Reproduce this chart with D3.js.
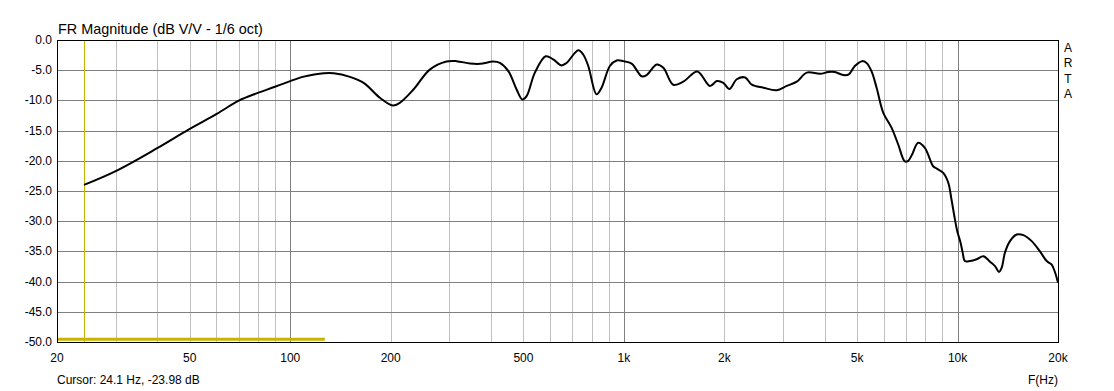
<!DOCTYPE html>
<html>
<head>
<meta charset="UTF-8">
<script src="https://cdn.jsdelivr.net/npm/d3@7"></script>
<style>
  body { margin: 0; background: #fff; }
  svg text { font-family: "Liberation Sans", Arial, sans-serif; font-size: 12px; fill: #000; }
</style>
</head>
<body>
<svg id="chart" width="1114" height="391"></svg>
<script>
// measured response, 1/6 oct smoothing
var freqs = [24.1, 30, 39.8, 49.7, 60.2, 70.1, 79.6, 90, 100, 109, 118, 126, 135, 151, 166, 186, 203, 213, 234, 262,
  294, 315, 346, 371, 406, 425, 451, 477, 496, 511, 541, 583, 614, 650, 673, 730, 755, 782, 828, 857,
  908, 951, 996, 1055, 1130, 1170, 1254, 1313, 1406, 1507, 1660, 1811, 1900, 1986, 2070, 2180, 2309, 2417, 2618, 2872,
  3077, 3297, 3532, 3874, 4096, 4287, 4541, 4722, 4922, 5178, 5338, 5525, 5720, 5990, 6340, 6640, 6950, 7112, 7300, 7620,
  7980, 8450, 8670, 9060, 9376, 9590, 9820, 9980, 10215, 10360, 10520, 10890, 11410, 11950, 12510, 12950, 13310, 13560, 13870, 14360,
  15040, 15750, 16680, 17660, 18500, 19150, 19600, 20000];
var dbs = [-23.98, -21.7, -17.96, -14.8, -12.25, -10.05, -8.8, -7.75, -6.8, -6.1, -5.7, -5.5, -5.5, -6.1, -7.1, -9.6, -10.85, -10.4, -8.2, -4.9,
  -3.56, -3.5, -3.9, -3.95, -3.56, -3.8, -5.2, -8.2, -9.85, -9.3, -5.4, -2.7, -3.2, -4.2, -3.8, -1.7, -2.4, -4.3, -9.0, -7.9,
  -4.3, -3.4, -3.5, -3.9, -6.0, -5.8, -4.06, -4.6, -7.4, -6.9, -5.2, -7.6, -6.8, -7.1, -8.1, -6.5, -6.2, -7.4, -7.9, -8.3,
  -7.6, -6.9, -5.4, -5.6, -5.3, -5.3, -5.8, -5.7, -4.3, -3.5, -3.8, -5.2, -7.9, -12.05, -14.5, -17.3, -20.1, -20.0, -19.0, -17.0,
  -17.85, -20.9, -21.3, -22.0, -23.6, -26.4, -29.7, -31.65, -33.6, -35.2, -36.6, -36.6, -36.3, -35.8, -36.7, -37.45, -38.4, -37.7, -35.2, -33.3,
  -32.2, -32.3, -33.3, -35.0, -36.6, -37.2, -38.5, -40.2];

var xTickVals = [20, 50, 100, 200, 500, 1000, 2000, 5000, 10000, 20000];
var xTickLabels = ["20", "50", "100", "200", "500", "1k", "2k", "5k", "10k", "20k"];
var yTickVals = [0, -5, -10, -15, -20, -25, -30, -35, -40, -45, -50];

var cursorFreq = 24.1, cursorDb = -23.98;
var markerEnd = 127;   // yellow reference band at the bottom

var pL = 57, pR = 1058, pT = 40, pB = 342;

var x = d3.scaleLog().domain([20, 20000]).range([pL, pR]);
var y = d3.scaleLinear().domain([-50, 0]).range([pB, pT]);

var svg = d3.select("#chart");

// minor vertical grid
var minor = [];
[10, 100, 1000, 10000].forEach(function(dec) {
  for (var k = 2; k <= 9; k++) {
    var f = dec * k;
    if (f > 20 && f < 20000) minor.push(f);
  }
});
svg.append("g").selectAll("line").data(minor).enter().append("line")
  .attr("x1", function(d) { return Math.round(x(d)) + 0.5; })
  .attr("x2", function(d) { return Math.round(x(d)) + 0.5; })
  .attr("y1", pT).attr("y2", pB)
  .attr("stroke", "#c0c0c0");

// decade lines
svg.append("g").selectAll("line").data([100, 1000, 10000]).enter().append("line")
  .attr("x1", function(d) { return Math.round(x(d)) + 0.5; })
  .attr("x2", function(d) { return Math.round(x(d)) + 0.5; })
  .attr("y1", pT).attr("y2", pB)
  .attr("stroke", "#808080");

// horizontal grid
svg.append("g").selectAll("line").data(yTickVals.slice(1, -1)).enter().append("line")
  .attr("x1", pL).attr("x2", pR)
  .attr("y1", function(d) { return Math.round(y(d)) + 0.5; })
  .attr("y2", function(d) { return Math.round(y(d)) + 0.5; })
  .attr("stroke", "#808080");

// cursor
svg.append("line")
  .attr("x1", Math.round(x(cursorFreq)) + 0.5).attr("x2", Math.round(x(cursorFreq)) + 0.5)
  .attr("y1", pT).attr("y2", pB)
  .attr("stroke", "#c8b400");

svg.append("line")
  .attr("x1", pL).attr("x2", x(markerEnd))
  .attr("y1", y(-49.55)).attr("y2", y(-49.55))
  .attr("stroke", "#c8b400").attr("stroke-width", 3);

// frame
svg.append("rect")
  .attr("x", pL + 0.5).attr("y", pT + 0.5)
  .attr("width", pR - pL).attr("height", pB - pT)
  .attr("fill", "none").attr("stroke", "#000");

// response curve
var pts = freqs.map(function(f, i) { return [f, dbs[i]]; });
var line = d3.line()
  .x(function(d) { return x(d[0]); })
  .y(function(d) { return y(d[1]); })
  .curve(d3.curveCatmullRom.alpha(0.5));

svg.append("path")
  .datum(pts)
  .attr("d", line)
  .attr("fill", "none")
  .attr("stroke", "#000")
  .attr("stroke-width", 2)
  .attr("stroke-linejoin", "round");

// y labels
svg.append("g").selectAll("text").data(yTickVals).enter().append("text")
  .attr("x", 52)
  .attr("y", function(d) { return y(d) + 4; })
  .attr("text-anchor", "end")
  .text(function(d) { return d.toFixed(1); });

// x labels
svg.append("g").selectAll("text").data(xTickVals).enter().append("text")
  .attr("x", function(d) { return x(d); })
  .attr("y", 362)
  .attr("text-anchor", "middle")
  .text(function(d, i) { return xTickLabels[i]; });

svg.append("text").attr("x", 58).attr("y", 34)
  .style("font-size", "14.4px")
  .text("FR Magnitude (dB V/V - 1/6 oct)");

svg.append("text").attr("x", 57).attr("y", 384)
  .text("Cursor: " + cursorFreq + " Hz, " + cursorDb.toFixed(2) + " dB");

svg.append("text").attr("x", 1043).attr("y", 384)
  .attr("text-anchor", "middle")
  .text("F(Hz)");

svg.append("g").selectAll("text").data(["A", "R", "T", "A"]).enter().append("text")
  .attr("x", 1068)
  .attr("y", function(d, i) { return 52 + i * 15.3; })
  .attr("text-anchor", "middle")
  .text(function(d) { return d; });
</script>
</body>
</html>
